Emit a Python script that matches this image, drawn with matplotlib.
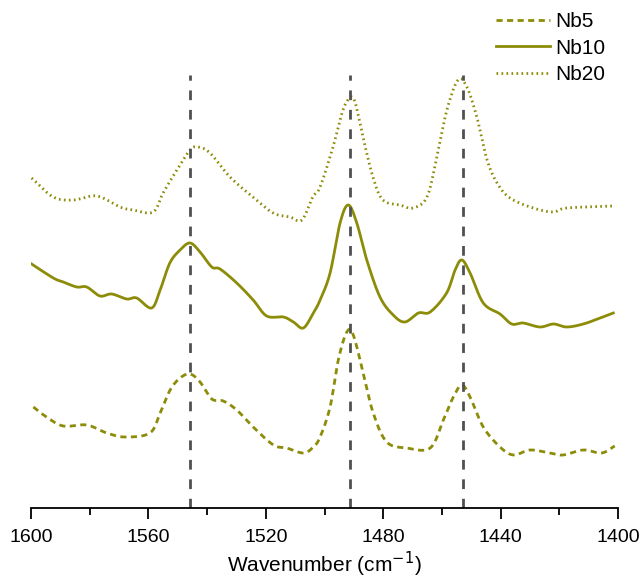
import numpy as np
import matplotlib
matplotlib.use("Agg")
import matplotlib.pyplot as plt
from matplotlib.ticker import MultipleLocator

plt.rcParams['font.family'] = ['Liberation Sans', 'DejaVu Sans']

# spectra (wavenumber, intensity a.u.)
wn_nb20 = [1599.8, 1592.4, 1585.6, 1577.6, 1569.7, 1565.2, 1558.4, 1555.0, 1550.3, 1545.8,
           1543.1, 1539.0, 1532.2, 1524.4, 1517.5, 1511.8, 1507.7, 1504.0, 1501.5, 1497.1,
           1493.7, 1491.3, 1489.6, 1486.9, 1483.5, 1480.1, 1474.3, 1469.9, 1465.1, 1461.7,
           1458.3, 1454.5, 1451.5, 1448.1, 1444.6, 1441.2, 1436.8, 1428.9, 1422.1, 1417.4, 1401.7]
nb20 = [3.42, 3.23, 3.20, 3.24, 3.13, 3.10, 3.08, 3.27, 3.50, 3.70,
        3.73, 3.67, 3.43, 3.23, 3.07, 3.03, 3.00, 3.23, 3.33, 3.73,
        4.10, 4.22, 4.18, 3.83, 3.43, 3.20, 3.15, 3.12, 3.23, 3.63,
        4.10, 4.40, 4.33, 4.03, 3.60, 3.37, 3.22, 3.12, 3.08, 3.12, 3.14]

wn_nb10 = [1599.8, 1592.4, 1589.0, 1584.4, 1581.0, 1576.5, 1572.5, 1567.4, 1564.0, 1558.9,
           1556.0, 1552.7, 1549.2, 1545.8, 1542.4, 1538.4, 1535.6, 1529.9, 1524.3, 1519.7,
           1514.0, 1510.6, 1507.2, 1503.8, 1501.5, 1498.1, 1494.7, 1491.9, 1489.0, 1485.6,
           1481.1, 1476.6, 1472.6, 1468.0, 1464.0, 1458.4, 1455.5, 1453.2, 1450.4, 1445.9,
           1440.2, 1436.2, 1432.3, 1426.6, 1422.0, 1417.5, 1411.8, 1406.1, 1401.6]
nb10 = [2.56, 2.42, 2.38, 2.33, 2.33, 2.24, 2.26, 2.21, 2.22, 2.12,
        2.30, 2.57, 2.70, 2.77, 2.68, 2.53, 2.51, 2.37, 2.20, 2.04,
        2.03, 1.98, 1.92, 2.07, 2.20, 2.47, 2.97, 3.15, 2.97, 2.60,
        2.23, 2.05, 1.98, 2.07, 2.08, 2.27, 2.50, 2.60, 2.47, 2.17,
        2.06, 1.96, 1.97, 1.93, 1.96, 1.93, 1.96, 2.02, 2.07]

wn_nb5 = [1599.2, 1594.7, 1589.0, 1581.0, 1574.2, 1568.0, 1559.5, 1556.0, 1552.6, 1549.2,
          1545.8, 1542.4, 1538.4, 1534.5, 1529.9, 1524.3, 1517.4, 1512.9, 1507.2, 1503.8,
          1501.5, 1498.1, 1495.3, 1492.4, 1490.2, 1486.8, 1483.4, 1478.8, 1472.0, 1464.0,
          1459.5, 1456.1, 1453.2, 1450.4, 1445.9, 1440.2, 1435.6, 1430.0, 1423.2, 1418.7,
          1411.8, 1405.6, 1401.1]
nb5 = [1.13, 1.03, 0.94, 0.95, 0.87, 0.83, 0.87, 1.07, 1.30, 1.42,
       1.46, 1.38, 1.21, 1.19, 1.10, 0.93, 0.75, 0.72, 0.67, 0.73,
       0.83, 1.13, 1.60, 1.88, 1.85, 1.47, 1.07, 0.78, 0.72, 0.72,
       1.00, 1.23, 1.35, 1.23, 0.93, 0.73, 0.65, 0.70, 0.67, 0.65,
       0.70, 0.67, 0.74]

peak_lines = [1545.8, 1491.3, 1452.7]
line_color = '#8c8c08'


def smooth(wn, val, n=20):
    # catmull-rom curve through the read points
    x = np.asarray(wn, float)
    y = np.asarray(val, float)
    px = np.concatenate([[2 * x[0] - x[1]], x, [2 * x[-1] - x[-2]]])
    py = np.concatenate([[2 * y[0] - y[1]], y, [2 * y[-1] - y[-2]]])
    t = np.linspace(0, 1, n, endpoint=False)[:, None]
    xs, ys = [], []
    for i in range(1, len(px) - 2):
        for p, out in ((px, xs), (py, ys)):
            p0, p1, p2, p3 = p[i - 1], p[i], p[i + 1], p[i + 2]
            seg = 0.5 * (2 * p1 + (p2 - p0) * t + (2 * p0 - 5 * p1 + 4 * p2 - p3) * t ** 2
                         + (3 * p1 - p0 - 3 * p2 + p3) * t ** 3)
            out.append(seg.ravel())
    xs.append([x[-1]])
    ys.append([y[-1]])
    return np.concatenate(xs), np.concatenate(ys)


fig = plt.figure(figsize=(6.41, 5.81), dpi=100)
ax = fig.add_axes([31 / 641, 73 / 581, 587 / 641, 498 / 581])

x, y = smooth(wn_nb5, nb5)
ax.plot(x, y, color=line_color, lw=2, ls=(0, (2.2, 1.6)), label='Nb5')
x, y = smooth(wn_nb10, nb10)
ax.plot(x, y, color=line_color, lw=2, ls='-', label='Nb10')
x, y = smooth(wn_nb20, nb20)
ax.plot(x, y, color=line_color, lw=2, ls=(0, (0.6, 1.2)), label='Nb20')

for p in peak_lines:
    ax.plot([p, p], [0.12, 4.45], color='#505050', lw=2, ls=(0, (3.5, 3.5)))

ax.set_xlim(1600, 1400)
ax.set_ylim(0.12, 5.10)
ax.xaxis.set_major_locator(MultipleLocator(40))
ax.xaxis.set_minor_locator(MultipleLocator(20))
ax.tick_params(axis='x', which='major', direction='out', length=8, width=1.3, labelsize=14, pad=7)
ax.tick_params(axis='x', which='minor', direction='out', length=5, width=1.3)
ax.set_yticks([])
for s in ['left', 'right', 'top']:
    ax.spines[s].set_visible(False)
ax.spines['bottom'].set_linewidth(1.3)
ax.set_xlabel('Wavenumber (cm$^{-1}$)', fontsize=15, labelpad=3)

ax.legend(loc='upper right', bbox_to_anchor=(1.01, 1.033), frameon=False, fontsize=15,
          handlelength=2.6, handletextpad=0.25, labelspacing=0.35)

fig.savefig('out.png', dpi=100)
